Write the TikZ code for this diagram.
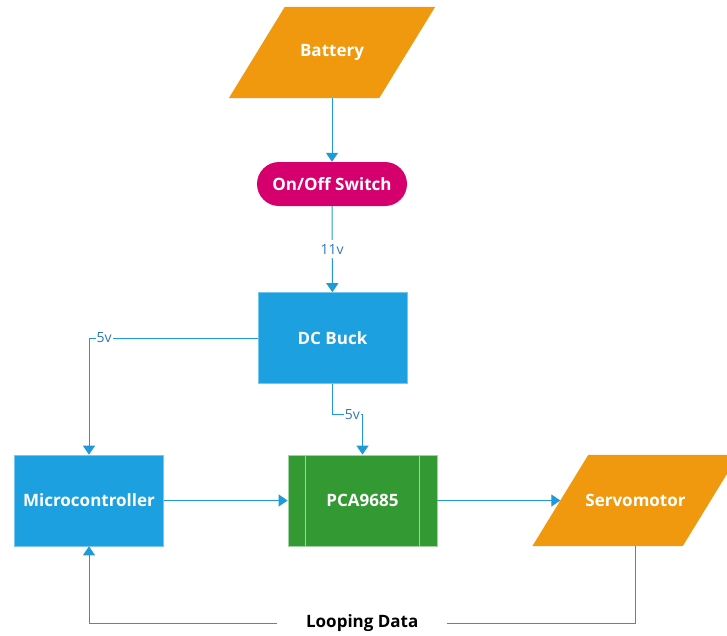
\documentclass[tikz,border=0pt]{standalone}
\usepackage{fontspec}
\setmainfont{Open Sans}
\usetikzlibrary{arrows.meta,backgrounds,calc}
\definecolor{cOrange}{HTML}{F0990E}
\definecolor{cMagenta}{HTML}{D5006D}
\definecolor{cBlue}{HTML}{1CA0E0}
\definecolor{cGreen}{HTML}{339933}
\definecolor{cLine}{HTML}{1F9AD6}
\definecolor{cLbl}{HTML}{2F79B5}
\begin{document}
\begin{tikzpicture}[x=1pt,y=-1pt,
  box/.style={minimum width=149pt,minimum height=91pt,inner sep=0pt,
    font=\bfseries\fontsize{17}{19}\selectfont,text=white},
  bluebox/.style={box,fill=cBlue,draw=cBlue!60!white,line width=0.6pt},
  greenbox/.style={box,fill=cGreen,draw=cGreen!45!white,line width=0.8pt},
  para/.style={box,minimum width=150pt},
  switchbox/.style={box,minimum width=150pt,minimum height=44pt,
    rounded corners=22pt,fill=cMagenta},
  arr/.style={draw=cLine,line width=1pt,-{Triangle[width=12pt,length=9pt]}},
  lbl/.style={fill=white,text=cLbl,font=\fontsize{14}{16}\selectfont,
    inner xsep=1pt,inner ysep=4pt},
  looplbl/.style={fill=white,text=black,font=\bfseries\fontsize{17}{19}\selectfont,
    inner xsep=29pt,inner ysep=3pt}
]
\path[use as bounding box] (0,0) rectangle (727,635);

\node[para] (bat) at (332,52.5) {Battery};
\node[switchbox] (sw) at (332,184) {On/Off Switch};
\node[bluebox] (buck) at (332.5,338) {DC Buck};
\node[bluebox] (mcu) at (89,500.5) {Microcontroller};
\node[greenbox] (pca) at (362.5,500.5) {PCA9685};
\node[para] (servo) at (635.5,500.5) {Servomotor};

\begin{pgfonlayer}{background}
  \fill[cOrange] ([xshift=28pt]bat.north west) -- ([xshift=28pt]bat.north east)
    -- ([xshift=-28pt]bat.south east) -- ([xshift=-28pt]bat.south west) -- cycle;
  \fill[cOrange] ([xshift=28pt]servo.north west) -- ([xshift=28pt]servo.north east)
    -- ([xshift=-28pt]servo.south east) -- ([xshift=-28pt]servo.south west) -- cycle;
\end{pgfonlayer}

\draw[cGreen!45!white,line width=0.8pt] ([xshift=18pt]pca.north west) -- ([xshift=18pt]pca.south west);
\draw[cGreen!45!white,line width=0.8pt] ([xshift=-18pt]pca.north east) -- ([xshift=-18pt]pca.south east);

\draw[arr] (bat) -- (sw);
\draw[arr] (sw) -- node[lbl]{11v} (buck);
\draw[arr] (buck.west) -| node[lbl,pos=0.455]{5v} (mcu.north);
\draw[arr] (buck.south) -- ++(0,31) -| node[lbl,pos=0.33]{5v} (pca.north);
\draw[arr] (mcu.east) -- (pca.west);
\draw[arr] (pca.east) -- (servo.west);
\draw[arr] (servo.south) -- ++(0,77) -| node[looplbl,pos=0.25]{Looping Data} (mcu.south);
\end{tikzpicture}
\end{document}
